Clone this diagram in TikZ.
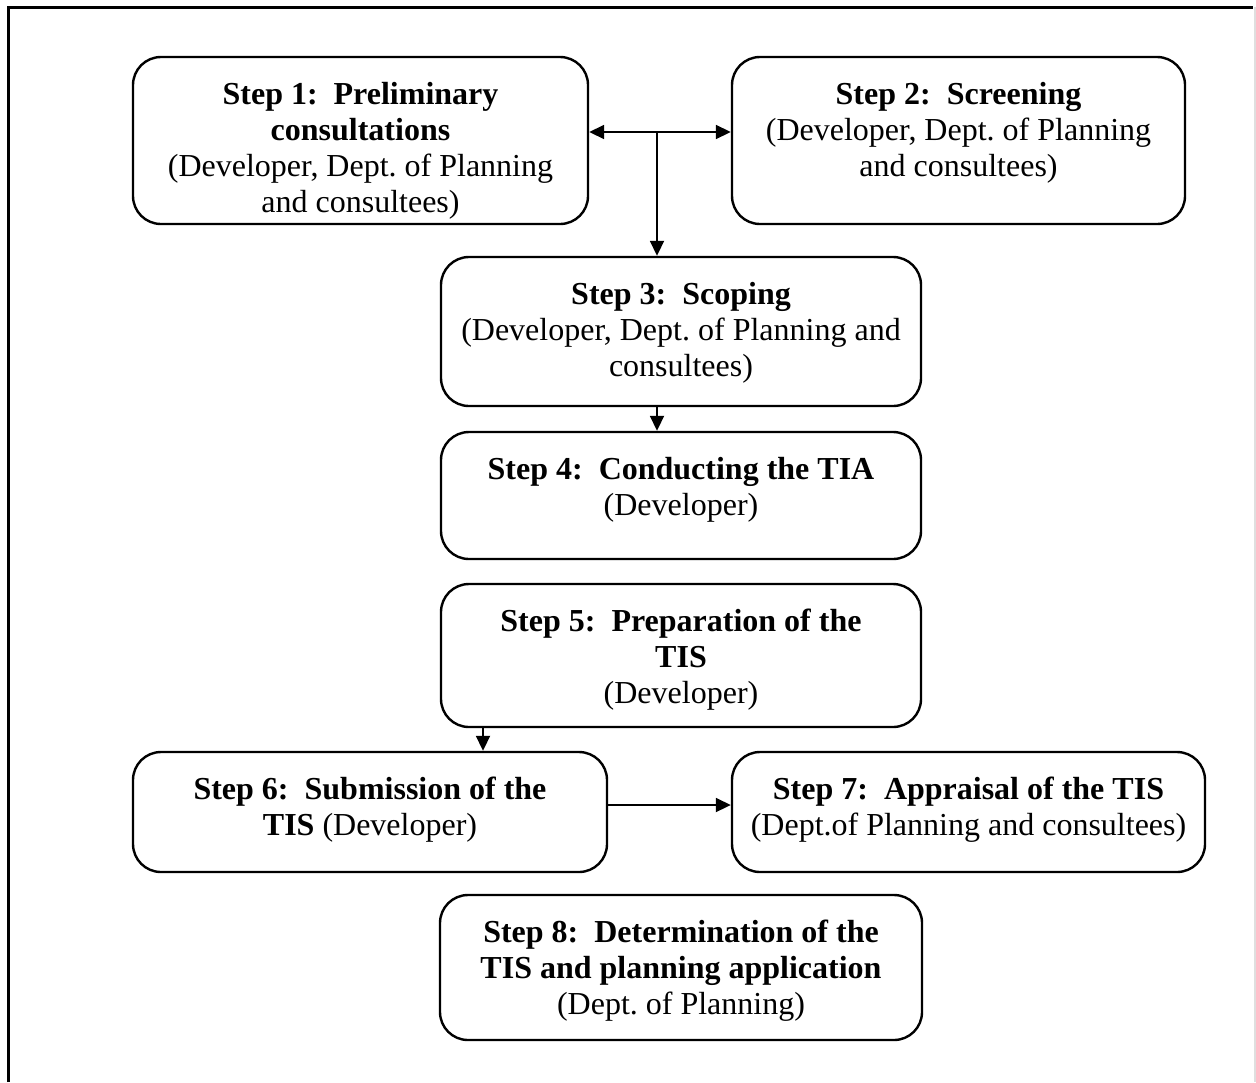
\documentclass[tikz,border=0pt]{standalone}
\usepackage{fontspec}
\setmainfont{Liberation Serif}
\usepackage{tikz}
\usetikzlibrary{arrows.meta}
\frenchspacing

\begin{document}
\begin{tikzpicture}[x=0.5pt, y=-0.5pt, >={Triangle[length=7.5pt, width=7pt]},
    stepbox/.style={draw, line width=1.2pt, rounded corners=14pt, inner sep=0pt},
    steptext/.style={anchor=north, align=center, inner sep=0pt, yshift=-13pt, font=\fontsize{16}{18}\selectfont},
    link/.style={->, line width=0.9pt}]
    \useasboundingbox (0,0) rectangle (1256,1082);
    \draw[line width=1.5pt] (8,1082) -- (8,7) -- (1253,7);
    \draw[gray!25, line width=0.8pt] (1255,7) -- (1255,1082);
    \node[stepbox, minimum width=227.5pt, minimum height=83.5pt, label={[steptext]north:{\textbf{Step 1:~ Preliminary}\\\textbf{consultations}\\(Developer, Dept. of Planning\\and consultees)}}] (s1) at (360.5,140.5) {};
    \node[stepbox, minimum width=226.5pt, minimum height=83.5pt, label={[steptext]north:{\textbf{Step 2:~ Screening}\\(Developer, Dept. of Planning\\and consultees)}}] (s2) at (958.5,140.5) {};
    \node[stepbox, minimum width=240pt, minimum height=74.5pt, label={[steptext]north:{\textbf{Step 3:~ Scoping}\\(Developer, Dept. of Planning and\\consultees)}}] (s3) at (681,331.5) {};
    \node[stepbox, minimum width=240pt, minimum height=63.5pt, label={[steptext]north:{\textbf{Step 4:~ Conducting the TIA}\\(Developer)}}] (s4) at (681,495.5) {};
    \node[stepbox, minimum width=240pt, minimum height=71.5pt, label={[steptext]north:{\textbf{Step 5:~ Preparation of the}\\\textbf{TIS}\\(Developer)}}] (s5) at (681,655.5) {};
    \node[stepbox, minimum width=237pt, minimum height=60pt, label={[steptext]north:{\textbf{Step 6:~ Submission of the}\\\textbf{TIS} (Developer)}}] (s6) at (370,812) {};
    \node[stepbox, minimum width=236.5pt, minimum height=60pt, label={[steptext]north:{\textbf{Step 7:~ Appraisal of the TIS}\\(Dept.of Planning and consultees)}}] (s7) at (968.5,812) {};
    \node[stepbox, minimum width=241pt, minimum height=72.5pt, label={[steptext]north:{\textbf{Step 8:~ Determination of the}\\\textbf{TIS and planning application}\\(Dept. of Planning)}}] (s8) at (681,967.5) {};
    \coordinate (j) at (657,132);
    \coordinate (k) at (483,0);
    \coordinate (m) at (0,805);
    \draw[link, <->] (s1.east |- j) -- (s2.west |- j);
    \draw[link] (j) -- (j |- s3.north);
    \draw[link] (j |- s3.south) -- (j |- s4.north);
    \draw[link] (k |- s5.south) -- (k |- s6.north);
    \draw[link] (s6.east |- m) -- (s7.west |- m);
\end{tikzpicture}
\end{document}
